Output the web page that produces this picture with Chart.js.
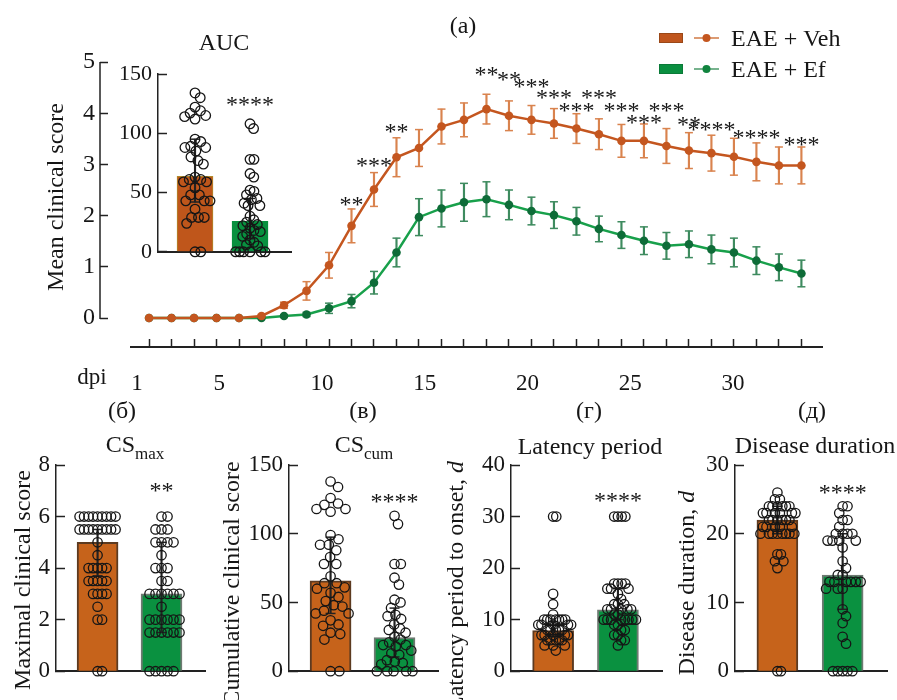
<!DOCTYPE html>
<html>
<head>
<meta charset="utf-8">
<script src="https://cdn.jsdelivr.net/npm/chart.js@4"></script>
<style>
  body { margin: 0; background: #fff; }
  #wrap { position: relative; width: 897px; height: 700px; overflow: hidden; background: #fff; }
  canvas { position: absolute; }
</style>
</head>
<body>
<div id="wrap">
  <canvas id="main" width="897" height="400" style="left:0;top:0"></canvas>
  <canvas id="auc"></canvas>
  <canvas id="csmax"></canvas>
  <canvas id="cscum"></canvas>
  <canvas id="latency"></canvas>
  <canvas id="duration"></canvas>
</div>
<script>
// ---- data: time course (a) ----
const groups = ['EAE + Veh', 'EAE + Ef'];
const days = [1, 2, 3, 4, 5, 6, 7, 8, 9, 10, 11, 12, 13, 14, 15, 16, 17, 18, 19, 20, 21, 22, 23, 24, 25, 26, 27, 28, 29, 30];
const vehMean = [0, 0, 0, 0, 0, 0.04, 0.25, 0.53, 1.03, 1.80, 2.51, 3.14, 3.32, 3.74, 3.87, 4.08, 3.95, 3.87, 3.80, 3.70, 3.59, 3.46, 3.46, 3.36, 3.27, 3.22, 3.15, 3.05, 2.98, 2.98];
const vehErr  = [0, 0, 0, 0, 0, 0.03, 0.06, 0.18, 0.25, 0.33, 0.33, 0.38, 0.36, 0.34, 0.33, 0.29, 0.29, 0.28, 0.29, 0.29, 0.30, 0.32, 0.33, 0.34, 0.35, 0.35, 0.36, 0.37, 0.36, 0.36];
const efMean  = [0, 0, 0, 0, 0, 0, 0.04, 0.07, 0.19, 0.33, 0.69, 1.28, 1.97, 2.14, 2.26, 2.32, 2.21, 2.09, 2.01, 1.89, 1.74, 1.62, 1.51, 1.41, 1.44, 1.34, 1.28, 1.12, 0.99, 0.87];
const efErr   = [0, 0, 0, 0, 0, 0, 0.02, 0.04, 0.10, 0.13, 0.22, 0.28, 0.36, 0.36, 0.37, 0.34, 0.29, 0.27, 0.26, 0.27, 0.25, 0.26, 0.27, 0.26, 0.26, 0.28, 0.28, 0.27, 0.26, 0.26];
const starDays  = [10, 11, 12, 16, 17, 18, 19, 20, 21, 22, 23, 24, 25, 26, 28, 30];
const starText  = ['**', '***', '**', '**', '**', '***', '***', '***', '***', '***', '***', '***', '**', '****', '****', '***'];
const starLevel = [2.30, 3.07, 3.74, 4.84, 4.75, 4.61, 4.39, 4.14, 4.39, 4.14, 3.91, 4.14, 3.87, 3.77, 3.61, 3.48];
const dpiTicks = [1, 5, 10, 15, 20, 25, 30];
const scoreTicks = [0, 1, 2, 3, 4, 5];

// ---- data: AUC inset ----
const aucMedian = [63.6, 25.8];
const aucLow = [42, 11];
const aucHigh = [95, 45];
const aucVeh = [134, 130, 122, 119, 117, 115, 114, 112, 95, 93, 89, 88, 88, 85, 80, 77, 74, 63, 61, 61, 59, 59, 54, 48, 48, 43, 43, 43, 36, 29, 29, 29, 24, 0, 0];
const aucEf = [108, 104, 78, 78, 66, 63, 52, 51, 48, 45, 44, 41, 39, 39, 30, 27, 25, 23, 22, 20, 18, 17, 15, 13, 10, 8, 6, 5, 0, 0, 0, 0, 0, 0];

// ---- data: (б) maximal clinical score ----
const csmaxMedian = [5.0, 3.0];
const csmaxLow = [3.7, 1.5];
const csmaxHigh = [5.5, 5.0];
const csmaxVeh = [6, 6, 6, 6, 6, 6, 6, 6, 6, 5.5, 5.5, 5.5, 5.5, 5.5, 5.5, 5.5, 5.5, 5.5, 5, 4.5, 4, 4, 4, 4, 4, 3.5, 3.5, 3.5, 3.5, 3.5, 3, 3, 3, 3, 2.5, 2, 2, 0, 0];
const csmaxEf = [6, 6, 5.5, 5.5, 5.5, 5, 5, 5, 5, 4.5, 4, 4, 4, 3.5, 3.5, 3, 3, 3, 3, 3, 3, 2.5, 2, 2, 2, 2, 2, 2, 1.5, 1.5, 1.5, 1.5, 1.5, 1.5, 0, 0, 0, 0, 0];

// ---- data: (в) cumulative clinical score ----
const cscumMedian = [65.8, 24.4];
const cscumLow = [42, 10.4];
const cscumHigh = [97.5, 45.9];
const cscumVeh = [138, 134, 126, 122, 121, 118, 118, 116, 99, 96, 92, 92, 88, 83, 78, 78, 69, 64, 64, 61, 60, 57, 54, 51, 48, 47, 44, 42, 42, 37, 34, 33, 28, 27, 23, 0, 0];
const cscumEf = [113, 107, 78, 78, 68, 63, 52, 50, 46, 41, 40, 38, 34, 31, 30, 28, 25, 23, 21, 19, 19, 18, 15, 13, 12, 8, 7, 6, 5, 0, 0, 0, 0, 0];

// ---- data: (г) latency period ----
const latMedian = [7.9, 11.9];
const latLow = [6.7, 10];
const latHigh = [9.6, 16];
const latVeh = [30, 30, 15, 13, 11, 10, 10, 10, 10, 10, 10, 10, 9, 9, 9, 9, 9, 8, 8, 8, 8, 8, 7, 7, 7, 7, 7, 6, 6, 6, 6, 6, 5, 5, 5, 4];
const latEf = [30, 30, 30, 30, 17, 17, 17, 17, 16, 16, 16, 15, 14, 13, 13, 13, 12, 12, 12, 12, 12, 11, 11, 10, 10, 10, 10, 10, 10, 10, 10, 9, 9, 8, 8, 7, 7, 6, 6, 5];

// ---- data: (д) disease duration ----
const durMedian = [22, 14];
const durLow = [20, 9];
const durHigh = [24, 20];
const durVeh = [26, 25, 25, 24, 24, 24, 24, 24, 24, 23, 23, 23, 23, 23, 23, 22, 22, 22, 22, 22, 22, 21, 21, 21, 21, 21, 20, 20, 20, 20, 20, 20, 20, 20, 17, 17, 16, 16, 15, 0, 0];
const durEf = [24, 24, 23, 22, 22, 21, 20, 20, 20, 20, 19, 19, 19, 19, 18, 16, 15, 14, 14, 13, 13, 13, 13, 13, 13, 12, 12, 12, 9, 8, 7, 5, 4, 0, 0, 0, 0, 0];

// ---- styles ----
const SERIF = "'Liberation Serif', 'Times New Roman', serif";
const INK = '#161616';
const ORANGE = '#c4561f';
const ORANGE_ERR = '#d9834e';
const GREEN_LINE = '#18a04b';
const GREEN_PT = '#0e6c38';
const GREEN_ERR = '#3e8b5f';

const pairs = (xs, ys) => xs.map((x, i) => ({ x: x, y: ys[i] }));

function drawParts(ctx, parts, x, y, rotate) {
  ctx.save();
  ctx.translate(x, y);
  if (rotate) ctx.rotate(-Math.PI / 2);
  ctx.fillStyle = INK;
  ctx.textBaseline = 'alphabetic';
  ctx.textAlign = 'left';
  let total = 0;
  parts.forEach(p => {
    ctx.font = (p[3] || 'normal') + ' ' + p[1] + 'px ' + SERIF;
    total += ctx.measureText(p[0]).width;
  });
  let cx = -total / 2;
  parts.forEach(p => {
    ctx.font = (p[3] || 'normal') + ' ' + p[1] + 'px ' + SERIF;
    ctx.fillText(p[0], cx, p[2] || 0);
    cx += ctx.measureText(p[0]).width;
  });
  ctx.restore();
}

// ---- main time-course chart ----
const mainDecor = {
  id: 'mainDecor',
  afterDraw(chart) {
    const { ctx, chartArea: a, scales: { x, y } } = chart;
    ctx.save();
    ctx.strokeStyle = '#222';
    ctx.lineWidth = 1.5;
    ctx.beginPath();
    ctx.moveTo(a.left, y.getPixelForValue(0) + 1);
    ctx.lineTo(a.left, y.getPixelForValue(5));
    ctx.stroke();
    ctx.lineWidth = 2;
    ctx.beginPath();
    ctx.moveTo(a.left + 30, a.bottom);
    ctx.lineTo(a.right, a.bottom);
    ctx.stroke();

    // significance marks
    ctx.fillStyle = INK;
    ctx.font = '24px ' + SERIF;
    ctx.textAlign = 'center';
    ctx.textBaseline = 'alphabetic';
    starDays.forEach((d, i) => {
      ctx.fillText(starText[i], x.getPixelForValue(d), y.getPixelForValue(starLevel[i]) + 12);
    });

    // legend
    const rows = [
      { fill: '#c0561e', edge: '#9a4818', line: '#d07a44', dot: ORANGE, y: 38 },
      { fill: '#0a8f40', edge: '#0a7a38', line: '#4a9a68', dot: '#11843f', y: 69 }
    ];
    rows.forEach((r, i) => {
      ctx.fillStyle = r.fill;
      ctx.fillRect(659, r.y - 5, 24, 10);
      ctx.strokeStyle = r.edge;
      ctx.lineWidth = 1;
      ctx.strokeRect(659.5, r.y - 4.5, 23, 9);
      ctx.strokeStyle = r.line;
      ctx.lineWidth = 1.5;
      ctx.beginPath();
      ctx.moveTo(694, r.y);
      ctx.lineTo(719, r.y);
      ctx.stroke();
      ctx.fillStyle = r.dot;
      ctx.beginPath();
      ctx.arc(706.5, r.y, 4, 0, Math.PI * 2);
      ctx.fill();
      ctx.fillStyle = INK;
      ctx.font = '24px ' + SERIF;
      ctx.textAlign = 'left';
      ctx.fillText(groups[i], 731, r.y + 8);
    });
    ctx.restore();

    drawParts(ctx, [['(a)', 24]], 463, 33, false);
    drawParts(ctx, [['Mean clinical score', 24]], 63, 197, true);
    drawParts(ctx, [['dpi', 23]], 92, 384, false);
  }
};

const capPoints = (mean, err) => days.flatMap((d, i) => err[i] > 0
  ? [{ x: d, y: mean[i] + err[i] }, { x: d, y: mean[i] - err[i] }] : []);
const errBars = (mean, err) => days.map((d, i) => ({ x: d, y: [mean[i] - err[i], mean[i] + err[i]] }));

new Chart(document.getElementById('main'), {
  type: 'line',
  data: {
    datasets: [
      { type: 'line', data: pairs(days, vehMean), borderColor: ORANGE, borderWidth: 2.5, tension: 0,
        pointRadius: 4.3, pointBackgroundColor: ORANGE, pointBorderWidth: 0, order: 0, clip: false },
      { type: 'line', data: pairs(days, efMean), borderColor: GREEN_LINE, borderWidth: 2.5, tension: 0,
        pointRadius: 4.3, pointBackgroundColor: GREEN_PT, pointBorderWidth: 0, order: 1, clip: false },
      { type: 'bar', data: errBars(vehMean, vehErr), backgroundColor: ORANGE_ERR, barThickness: 1.5,
        grouped: false, order: 3, clip: false },
      { type: 'scatter', data: capPoints(vehMean, vehErr), pointStyle: 'line', pointRadius: 4,
        pointBorderColor: ORANGE_ERR, pointBorderWidth: 1.5, order: 3, clip: false },
      { type: 'bar', data: errBars(efMean, efErr), backgroundColor: GREEN_ERR, barThickness: 1.5,
        grouped: false, order: 4, clip: false },
      { type: 'scatter', data: capPoints(efMean, efErr), pointStyle: 'line', pointRadius: 4,
        pointBorderColor: GREEN_ERR, pointBorderWidth: 1.5, order: 4, clip: false }
    ]
  },
  options: {
    responsive: false,
    animation: false,
    events: [],
    layout: { padding: { top: 62, right: 74, left: 0, bottom: 0 } },
    plugins: { legend: { display: false }, tooltip: { enabled: false } },
    scales: {
      x: {
        type: 'linear', min: -1.18, max: 30.96, offset: false, weight: 0,
        afterBuildTicks: s => { s.ticks = days.map(v => ({ value: v })); },
        afterFit: s => { s.height = 2; },
        ticks: { display: false },
        grid: { display: true, offset: false, drawOnChartArea: false, drawTicks: true, tickLength: -8,
                tickWidth: 1.5, tickColor: '#222' },
        border: { display: false }
      },
      xl: {
        type: 'linear', axis: 'x', position: 'bottom', min: -0.8, max: 34.38, weight: 1,
        afterBuildTicks: s => { s.ticks = dpiTicks.map(v => ({ value: v })); },
        afterFit: s => { s.height = 51; },
        ticks: { font: { family: SERIF, size: 23 }, color: INK, padding: 13, maxRotation: 0, autoSkip: false },
        grid: { display: false },
        border: { display: false }
      },
      y: {
        type: 'linear', min: -0.566, max: 5,
        afterBuildTicks: s => { s.ticks = scoreTicks.map(v => ({ value: v })); },
        afterFit: s => { s.width = 100; },
        ticks: { font: { family: SERIF, size: 24 }, color: INK, padding: 13 },
        grid: { display: true, drawOnChartArea: false, drawTicks: true, tickLength: -8,
                tickWidth: 1.5, tickColor: '#222' },
        border: { display: false }
      }
    }
  },
  plugins: [mainDecor]
});

// ---- dot-plot bar panels ----
function swarm(ypx, sep, limit) {
  const order = ypx.map((_, i) => i).sort((a, b) => ypx[b] - ypx[a]);
  const placed = [];
  const off = new Array(ypx.length).fill(0);
  const free = (c, y) => placed.every(q => (q.x - c) ** 2 + (q.y - y) ** 2 >= sep * sep - 0.01);
  order.forEach(i => {
    let pos = 0;
    for (let s = 0; s < 300; s += 0.5) {
      if (free(s, ypx[i])) { pos = s; break; }
      if (free(-s, ypx[i])) { pos = -s; break; }
    }
    off[i] = pos;
    placed.push({ x: pos, y: ypx[i] });
  });
  const m = Math.max(...off.map(Math.abs));
  if (m > limit) off.forEach((v, i) => { off[i] = v * limit / m; });
  return off;
}

function barPanel(p) {
  const canvas = document.getElementById(p.id);
  const cLeft = p.left - p.padL;
  canvas.width = Math.round(p.right - p.left + p.padL + p.padR);
  canvas.height = p.cBottom - p.cTop;
  canvas.style.left = cLeft + 'px';
  canvas.style.top = p.cTop + 'px';

  const decor = {
    id: 'decor_' + p.id,
    afterDraw(chart) {
      const { ctx, scales: { x, y } } = chart;
      ctx.save();
      ctx.fillStyle = INK;
      ctx.font = p.sigSize + 'px ' + SERIF;
      ctx.textAlign = 'center';
      ctx.fillText(p.sig, x.getPixelForValue(1), y.getPixelForValue(p.sigLevel) + 12);
      ctx.restore();
      p.texts.forEach(t => drawParts(ctx, t.parts, t.x - cLeft, t.y - p.cTop, !!t.rot));
    }
  };

  const whisk = [0, 1].map(g => ({ x: g, y: [p.low[g], p.high[g]] }));
  const caps = [0, 1].flatMap(g => [{ x: g, y: p.low[g] }, { x: g, y: p.high[g] }]);
  const dots = { type: 'scatter', pointRadius: p.r, pointBorderWidth: 1.3, pointBorderColor: INK,
                 pointBackgroundColor: 'rgba(0,0,0,0)', order: 0, clip: false };

  const chart = new Chart(canvas, {
    type: 'bar',
    data: {
      datasets: [
        Object.assign({ data: p.veh.map(v => ({ x: 0, y: v })) }, dots),
        Object.assign({ data: p.ef.map(v => ({ x: 1, y: v })) }, dots),
        { type: 'bar', data: whisk, backgroundColor: '#222', barThickness: 1.5, grouped: false, order: 1, clip: false },
        { type: 'scatter', data: caps, pointStyle: 'line', pointRadius: 5, pointBorderColor: '#222',
          pointBorderWidth: 1.5, order: 1, clip: false },
        { type: 'bar', data: pairs([0, 1], p.median), backgroundColor: p.barFill, borderColor: p.barEdge,
          borderWidth: p.barBorder, barThickness: p.barW, grouped: false, order: 2, clip: false }
      ]
    },
    options: {
      responsive: false,
      animation: false,
      events: [],
      layout: { padding: { top: p.top - p.cTop, bottom: p.cBottom - p.bottom, left: 0, right: p.padR } },
      plugins: { legend: { display: false }, tooltip: { enabled: false } },
      scales: {
        x: {
          type: 'linear', min: p.xMin, max: p.xMax, offset: false,
          afterFit: s => { s.height = 0; },
          ticks: { display: false },
          grid: { display: false, offset: false },
          border: { display: true, width: 2, color: '#222' }
        },
        y: {
          type: 'linear', min: 0, max: p.yMax,
          afterFit: s => { s.width = p.padL; },
          ticks: { stepSize: p.yStep, font: { family: SERIF, size: p.tickSize }, color: INK, padding: 15 },
          grid: { display: true, drawOnChartArea: false, drawTicks: true, tickLength: -9,
                  tickWidth: 1.5, tickColor: '#222' },
          border: { display: true, width: 1.5, color: '#222' }
        }
      }
    },
    plugins: [decor]
  });

  const xs = chart.scales.x, ys = chart.scales.y;
  const pxX = xs.getPixelForValue(1) - xs.getPixelForValue(0);
  const pxY = ys.getPixelForValue(0) - ys.getPixelForValue(1);
  [p.veh, p.ef].forEach((vals, g) => {
    const off = swarm(vals.map(v => v * pxY), 2 * p.r + 0.4, p.limit);
    chart.data.datasets[g].data = vals.map((v, i) => ({ x: g + off[i] / pxX, y: v }));
  });
  chart.update('none');
}

const bottomBars = {
  cTop: 395, cBottom: 700, top: 465, bottom: 690.7, padL: 70, padR: 10,
  xMin: -0.65, xMax: 1.68, barW: 41, barBorder: 2, r: 4.7, limit: 18, tickSize: 23, sigSize: 24,
  barFill: ['#c6631b', '#0a9140'], barEdge: ['#5c3a20', '#6e7a72']
};

barPanel({
  id: 'auc', left: 158, right: 291, top: 74, bottom: 271.7, cTop: 25, cBottom: 280, padL: 58, padR: 9,
  xMin: -0.673, xMax: 1.745, yMax: 150, yStep: 50, barW: 36, barBorder: 1, r: 4.8, limit: 15,
  tickSize: 22, sigSize: 24,
  barFill: ['#bf561b', '#08903f'], barEdge: ['#b08a2a', '#08903f'],
  median: aucMedian, low: aucLow, high: aucHigh, veh: aucVeh, ef: aucEf, sig: '****', sigLevel: 128,
  texts: [{ parts: [['AUC', 24]], x: 224, y: 50 }]
});

barPanel(Object.assign({}, bottomBars, {
  id: 'csmax', left: 56, right: 205, yMax: 8, yStep: 2,
  median: csmaxMedian, low: csmaxLow, high: csmaxHigh, veh: csmaxVeh, ef: csmaxEf, sig: '**', sigLevel: 7.2,
  texts: [
    { parts: [['(б)', 24]], x: 122, y: 418 },
    { parts: [['CS', 24, 0], ['max', 17, 7]], x: 135, y: 452 },
    { parts: [['Maximal clinical score', 24]], x: 30, y: 580, rot: true }
  ]
}));

barPanel(Object.assign({}, bottomBars, {
  id: 'cscum', left: 289, right: 438, yMax: 150, yStep: 50,
  median: cscumMedian, low: cscumLow, high: cscumHigh, veh: cscumVeh, ef: cscumEf, sig: '****', sigLevel: 126.7,
  texts: [
    { parts: [['(в)', 24]], x: 363, y: 418 },
    { parts: [['CS', 24, 0], ['cum', 17, 7]], x: 364, y: 452 },
    { parts: [['Cumulative clinical score', 24]], x: 239, y: 584, rot: true }
  ]
}));

barPanel(Object.assign({}, bottomBars, {
  id: 'latency', left: 511, right: 662, yMax: 40, yStep: 10,
  median: latMedian, low: latLow, high: latHigh, veh: latVeh, ef: latEf, sig: '****', sigLevel: 34,
  texts: [
    { parts: [['(г)', 24]], x: 589, y: 418 },
    { parts: [['Latency period', 24]], x: 590, y: 454 },
    { parts: [['Latency period to onset, ', 24], ['d', 24, 0, 'italic']], x: 463, y: 586, rot: true }
  ]
}));

barPanel(Object.assign({}, bottomBars, {
  id: 'duration', left: 735, right: 887, yMax: 30, yStep: 10,
  median: durMedian, low: durLow, high: durHigh, veh: durVeh, ef: durEf, sig: '****', sigLevel: 26.7,
  texts: [
    { parts: [['(д)', 24]], x: 812, y: 418 },
    { parts: [['Disease duration', 24]], x: 815, y: 453 },
    { parts: [['Disease duration, ', 24], ['d', 24, 0, 'italic']], x: 694, y: 583, rot: true }
  ]
}));
</script>
</body>
</html>
